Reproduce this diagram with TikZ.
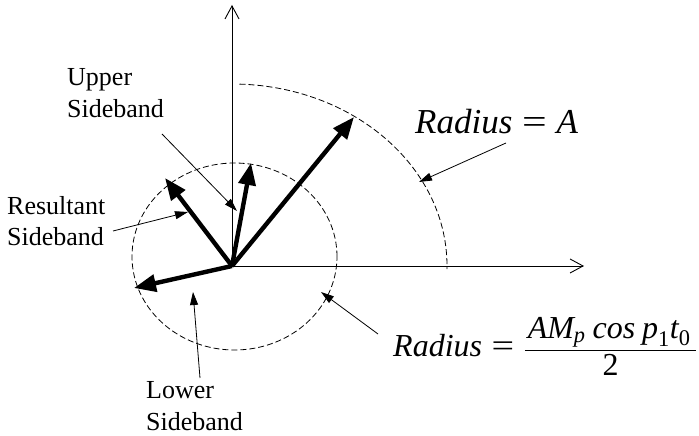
\documentclass[tikz,border=0pt]{standalone}
\usepackage{amsmath}
\usepackage{graphicx}
\usepackage{fontspec}
\setmainfont{Liberation Serif}
\usetikzlibrary{arrows.meta}
\newcommand{\wideeq}{\mathrel{\text{\hspace{0.08em}\scalebox{1.25}[1]{=}\hspace{0.08em}}}}
\tikzset{
  axisline/.style={line width=0.9pt, -{Straight Barb[length=13pt,width=14pt,line width=0.9pt]}},
  vec/.style={line width=4.4pt, -{Triangle[length=22pt,width=17pt]}},
  pointer/.style={line width=0.8pt, -{Triangle[length=13pt,width=8pt]}},
  dashcurve/.style={line width=0.8pt, dash pattern=on 6pt off 3pt},
  lbl/.style={anchor=base west, inner sep=0pt, font=\rmfamily\fontsize{26}{31}\selectfont},
  formulaA/.style={anchor=base west, inner sep=0pt, font=\rmfamily\fontsize{35}{42}\selectfont},
  formulaB/.style={anchor=base west, inner sep=0pt, font=\rmfamily\fontsize{32}{38}\selectfont}
}
\begin{document}
\begin{tikzpicture}[x=1pt,y=1pt]
\useasboundingbox (0,0) rectangle (699,436);
% key points
\coordinate (O) at (232,170);
\coordinate (ytop) at (232,431);
\coordinate (xend) at (584,170);
\coordinate (tmain) at (354,319);
\coordinate (tupper) at (251,273);
\coordinate (tres) at (165,258);
\coordinate (tlower) at (134,148);
\coordinate (cs) at (234.5,179.5);
% axes
\draw[axisline] (O) -- (ytop);
\draw[axisline] (O) -- (xend);
% dashed curves
\draw[dashcurve] (cs) ellipse[x radius=102.5, y radius=93.5];
\draw[dashcurve] (O) ++(88:215 and 182) arc[start angle=88, end angle=-1, x radius=215, y radius=182];
% vectors
\draw[vec] (O) -- (tmain);
\draw[vec] (O) -- (tupper);
\draw[vec] (O) -- (tres);
\draw[vec] (O) -- (tlower);
% labels
\node[lbl] (up1) at (67,350) {Upper};
\node[lbl] (up2) at (67,318) {Sideband};
\node[lbl] (rs1) at (7,221) {Resultant};
\node[lbl] (rs2) at (7,190) {Sideband};
\node[lbl] (lo1) at (146,37) {Lower};
\node[lbl] (lo2) at (146,5) {Sideband};
\node[formulaA] (fA) at (415,302) {$\textit{Radius} \wideeq \textit{A}$};
\node[formulaB] (fB) at (393,79) {$\textit{Radius} \wideeq \dfrac{\hspace{3pt}\textit{AM}_{\textit{p}}\;\textit{cos}\;\textit{p}_{\text{1}}\textit{t}_{\text{0}}\hspace{6pt}}{\text{2}}$};
% pointers
\coordinate (pu) at (162,302);
\coordinate (pue) at (237,225);
\coordinate (pr) at (113,205);
\coordinate (pre) at (188,224);
\coordinate (pl) at (200,58);
\coordinate (ple) at (193,144);
\coordinate (pA) at (506,293);
\coordinate (pAe) at (419,254);
\coordinate (pB) at (378,102);
\coordinate (pBe) at (321,144);
\draw[pointer] (pu) -- (pue);
\draw[pointer] (pr) -- (pre);
\draw[pointer] (pl) -- (ple);
\draw[pointer] (pA) -- (pAe);
\draw[pointer] (pB) -- (pBe);
\end{tikzpicture}
\end{document}
